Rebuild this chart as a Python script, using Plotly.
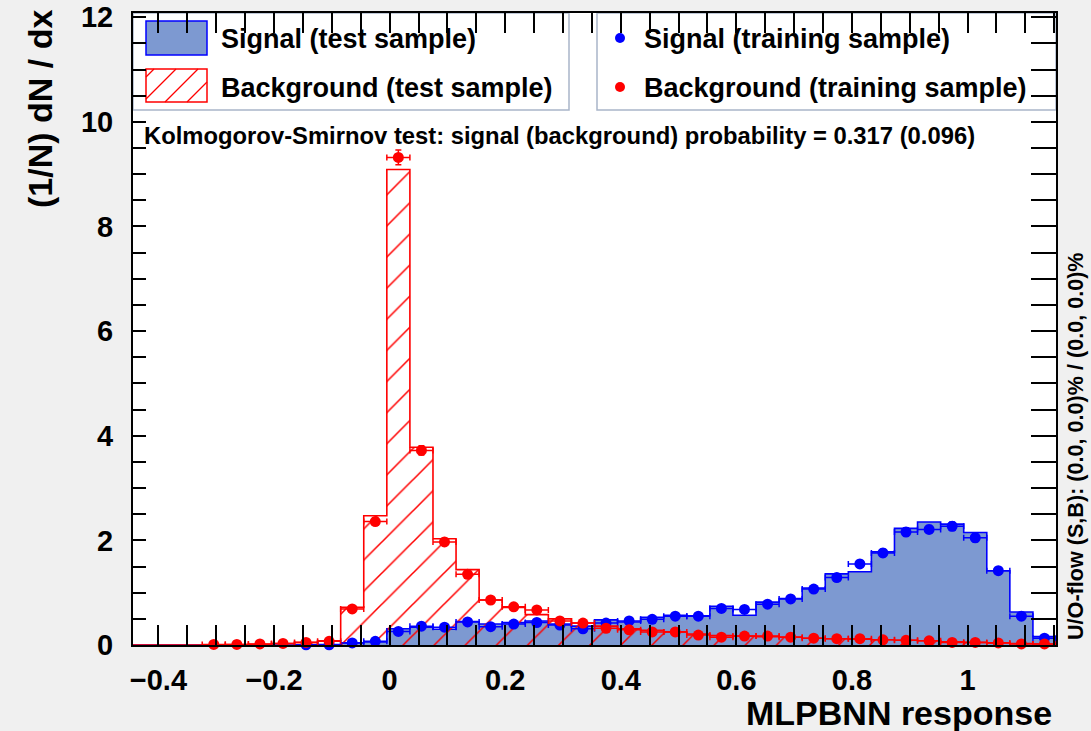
import numpy as np
import plotly.graph_objects as go

# Binning of the MLPBNN response histograms
XMIN, XMAX, NBINS = -0.444, 1.153, 40

# Signal (test sample): normalised histogram contents per bin
sig_test = [0, 0, 0, 0, 0, 0, 0, 0.005, 0.01, 0.04,
            0.06, 0.31, 0.34, 0.30, 0.45, 0.40, 0.43, 0.46, 0.40, 0.36,
            0.48, 0.44, 0.53, 0.57, 0.56, 0.74, 0.57, 0.82, 0.89, 1.09,
            1.36, 1.40, 1.78, 2.23, 2.35, 2.31, 2.15, 1.42, 0.63, 0.16]

# Background (test sample)
bkg_test = [0, 0, 0, 0.005, 0.01, 0.015, 0.03, 0.05, 0.08, 0.72,
            2.47, 9.09, 3.78, 2.03, 1.44, 0.86, 0.72, 0.58, 0.50, 0.42,
            0.36, 0.31, 0.28, 0.25, 0.21, 0.18, 0.17, 0.16, 0.15, 0.13,
            0.12, 0.11, 0.10, 0.09, 0.08, 0.06, 0.05, 0.04, 0.03, 0.02]

# Signal (training sample) points and their uncertainties (None = empty bin)
sig_train = [None, None, None, None, None, None, None, 0.003, 0.005, 0.04,
             0.07, 0.26, 0.36, 0.34, 0.44, 0.35, 0.40, 0.43, 0.38, 0.31,
             0.42, 0.46, 0.49, 0.55, 0.55, 0.70, 0.68, 0.78, 0.88, 1.07,
             1.29, 1.55, 1.76, 2.16, 2.21, 2.27, 2.05, 1.42, 0.55, 0.13]
sig_train_err = [0, 0, 0, 0, 0, 0, 0, 0.003, 0.004, 0.01,
                 0.015, 0.03, 0.03, 0.03, 0.035, 0.03, 0.035, 0.035, 0.03, 0.03,
                 0.035, 0.035, 0.035, 0.04, 0.04, 0.045, 0.045, 0.045, 0.05, 0.055,
                 0.06, 0.065, 0.07, 0.075, 0.075, 0.08, 0.075, 0.06, 0.04, 0.02]

# Background (training sample) points and their uncertainties
bkg_train = [None, None, None, 0.01, 0.01, 0.02, 0.03, 0.05, 0.07, 0.69,
             2.36, 9.32, 3.72, 1.97, 1.35, 0.86, 0.73, 0.67, 0.46, 0.42,
             0.32, 0.29, 0.25, 0.25, 0.19, 0.15, 0.17, 0.17, 0.15, 0.13,
             0.12, 0.12, 0.10, 0.09, 0.08, 0.05, 0.05, 0.04, 0.02, 0.02]
bkg_train_err = [0, 0, 0, 0.005, 0.005, 0.007, 0.008, 0.01, 0.012, 0.04,
                 0.07, 0.14, 0.09, 0.065, 0.055, 0.045, 0.04, 0.04, 0.035, 0.03,
                 0.03, 0.025, 0.025, 0.025, 0.02, 0.02, 0.02, 0.02, 0.02, 0.018,
                 0.017, 0.017, 0.016, 0.015, 0.014, 0.012, 0.012, 0.01, 0.008, 0.008]

ks_text = "Kolmogorov-Smirnov test: signal (background) probability = 0.317 (0.096)"
overflow_text = "U/O-flow (S,B): (0.0, 0.0)% / (0.0, 0.0)%"
legend_labels = ["Signal (test sample)", "Background (test sample)",
                 "Signal (training sample)", "Background (training sample)"]

SIG_FILL = "#7d99d1"
SIG_LINE = "#0000ff"
BKG_LINE = "#ff0000"
FONT = "Liberation Sans"
YMAX = 12.08

edges = np.linspace(XMIN, XMAX, NBINS + 1)
centers = 0.5 * (edges[:-1] + edges[1:])
half_w = np.full(NBINS, 0.5 * (edges[1] - edges[0]))

# Figure geometry (pixels) of the frame
W, H = 1091, 731
L, R, T, B = 133, 1056, 13, 645


def fx(px):
    return (px - L) / (R - L)


def fy(py):
    return (B - py) / (B - T)


def step(values):
    xs = list(edges) + [edges[-1]]
    ys = list(values) + [values[-1], 0]
    return xs, ys


fig = go.Figure()

sx, sy = step(sig_test)
fig.add_trace(go.Scatter(x=sx, y=sy, mode="lines", line=dict(color=SIG_LINE, width=1.6, shape="hv"),
                         fill="tozeroy", fillcolor=SIG_FILL, showlegend=False, hoverinfo="skip"))

bx, by = step(bkg_test)
fig.add_trace(go.Scatter(x=bx, y=by, mode="lines", line=dict(color=BKG_LINE, width=1.6, shape="hv"),
                         fill="tozeroy", fillcolor="rgba(0,0,0,0)",
                         fillpattern=dict(shape="/", fgcolor=BKG_LINE, bgcolor="rgba(0,0,0,0)",
                                          size=22, solidity=0.07, fgopacity=1),
                         showlegend=False, hoverinfo="skip"))

for vals, errs, col in [(sig_train, sig_train_err, SIG_LINE), (bkg_train, bkg_train_err, BKG_LINE)]:
    fig.add_trace(go.Scatter(
        x=centers, y=vals, mode="markers",
        marker=dict(color=col, size=11, line=dict(width=0)),
        error_x=dict(type="data", array=half_w, color=col, thickness=1.5, width=3),
        error_y=dict(type="data", array=errs, color=col, thickness=1.5, width=3),
        cliponaxis=False, showlegend=False))

# Empty trace so the right-hand tick axis is drawn
fig.add_trace(go.Scatter(x=[None], y=[None], yaxis="y2", showlegend=False, hoverinfo="skip"))

shapes = []
# Legend boxes
BOX = "#a9b5c9"
shapes.append(dict(type="rect", xref="paper", yref="paper", x0=fx(133), x1=fx(569), y0=fy(110), y1=fy(13),
                   fillcolor="white", line=dict(color=BOX, width=1.5), layer="below"))
shapes.append(dict(type="rect", xref="paper", yref="paper", x0=fx(597), x1=fx(1056), y0=fy(110), y1=fy(13),
                   fillcolor="white", line=dict(color=BOX, width=1.5), layer="below"))
# Legend symbol: signal fill
shapes.append(dict(type="rect", xref="paper", yref="paper", x0=fx(146), x1=fx(207), y0=fy(55), y1=fy(21),
                   fillcolor=SIG_FILL, line=dict(color=SIG_LINE, width=1.5), layer="below"))
# Legend symbol: hatched background
hx0, hx1, hy0, hy1 = 146, 207, 69, 102
shapes.append(dict(type="rect", xref="paper", yref="paper", x0=fx(hx0), x1=fx(hx1), y0=fy(hy1), y1=fy(hy0),
                   fillcolor="white", line=dict(color=BKG_LINE, width=1.5), layer="below"))
boxh = hy1 - hy0
for start in range(hx0 - boxh + 8, hx1, 22):
    # line of slope +1 on screen (rising to the right), clipped to the box
    x_a, y_a = start, hy1
    x_b, y_b = start + boxh, hy0
    if x_a < hx0:
        y_a = hy1 - (hx0 - x_a)
        x_a = hx0
    if x_b > hx1:
        y_b = hy0 + (x_b - hx1)
        x_b = hx1
    if x_b <= x_a:
        continue
    shapes.append(dict(type="line", xref="paper", yref="paper", x0=fx(x_a), y0=fy(y_a), x1=fx(x_b), y1=fy(y_b),
                       line=dict(color=BKG_LINE, width=1.3), layer="below"))
# Legend symbols: training markers
for py, col in [(38, SIG_LINE), (87, BKG_LINE)]:
    shapes.append(dict(type="circle", xref="paper", yref="paper", x0=fx(615), x1=fx(625),
                       y0=fy(py + 5), y1=fy(py - 5), fillcolor=col, line=dict(width=0), layer="below"))

ann = []
for txt, px, py in [(legend_labels[0], 219, 39), (legend_labels[1], 219, 88),
                    (legend_labels[2], 642, 39), (legend_labels[3], 642, 88)]:
    ann.append(dict(text=txt, xref="paper", yref="paper", x=fx(px), y=fy(py), xanchor="left", yanchor="middle",
                    showarrow=False, font=dict(family=FONT, size=27, color="black", weight="bold")))
ann.append(dict(text=ks_text, xref="paper", yref="paper", x=fx(142), y=fy(135), xanchor="left", yanchor="middle",
                showarrow=False, font=dict(family=FONT, size=23.8, color="black", weight="bold")))
ann.append(dict(text="(1/N) dN / dx", xref="paper", yref="paper", x=fx(40), y=fy(8), xanchor="center",
                yanchor="top", textangle=-90, showarrow=False,
                font=dict(family=FONT, size=34, color="black", weight="bold")))
ann.append(dict(text="MLPBNN response", xref="paper", yref="paper", x=fx(1054), y=fy(713), xanchor="right",
                yanchor="middle", showarrow=False, font=dict(family=FONT, size=34, color="black", weight="bold")))
ann.append(dict(text=overflow_text, xref="paper", yref="paper", x=fx(1075), y=fy(642), xanchor="center",
                yanchor="bottom", textangle=-90, showarrow=False,
                font=dict(family=FONT, size=21.6, color="black", weight="bold")))

fig.update_layout(
    width=W, height=H, autosize=False,
    margin=dict(l=L, r=W - R, t=T, b=H - B, pad=0, autoexpand=False),
    paper_bgcolor="#f0f0f0", plot_bgcolor="white",
    shapes=shapes, annotations=ann, showlegend=False,
    xaxis=dict(range=[XMIN, XMAX], automargin=False, showgrid=False, zeroline=False, showline=True,
               linecolor="black", linewidth=2, mirror="allticks", ticks="inside", ticklen=20, tickwidth=1.5,
               tickcolor="black", tick0=0, dtick=0.2, ticklabelstandoff=8,
               tickfont=dict(family=FONT, size=29, color="black", weight="bold"),
               minor=dict(ticks="inside", ticklen=10, tickwidth=1.5, tickcolor="black", dtick=0.05, tick0=0)),
    yaxis=dict(range=[0, YMAX], automargin=False, showgrid=False, zeroline=False, showline=True,
               linecolor="black", linewidth=2, mirror=True, ticks="inside", ticklen=13, tickwidth=1.5,
               tickcolor="black", tick0=0, dtick=2, ticklabelstandoff=12,
               tickfont=dict(family=FONT, size=29, color="black", weight="bold"),
               minor=dict(ticks="inside", ticklen=13, tickwidth=1.5, tickcolor="black", dtick=0.5, tick0=0)),
    yaxis2=dict(range=[0, YMAX], overlaying="y", side="right", automargin=False, showgrid=False,
                zeroline=False, showline=False, showticklabels=False, ticks="inside", ticklen=25,
                tickwidth=1.5, tickcolor="black", tick0=0, dtick=0.5),
)

fig.write_html("out.html")
